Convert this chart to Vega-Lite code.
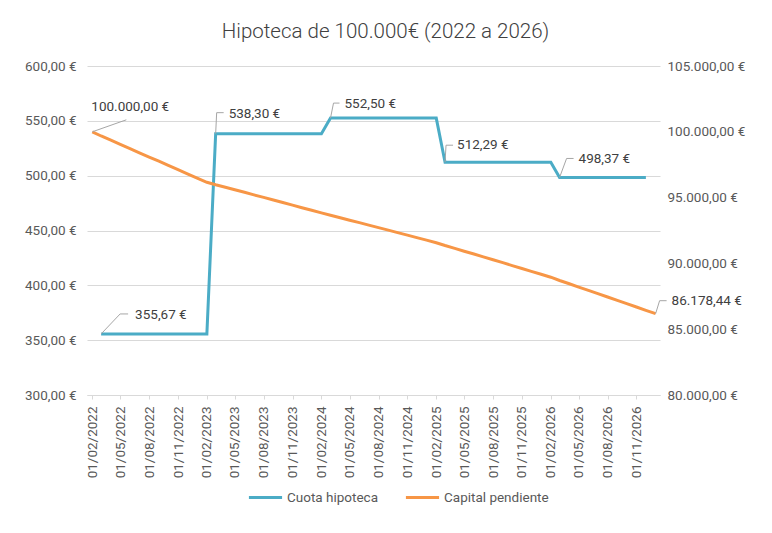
{
  "$schema": "https://vega.github.io/schema/vega-lite/v6.json",
  "width": 573,
  "height": 329,
  "autosize": {"type": "none"},
  "padding": {"left": 87, "top": 66, "right": 112, "bottom": 138},
  "background": "white",
  "title": {
    "text": "Hipoteca de 100.000€ (2022 a 2026)",
    "font": "Roboto",
    "fontSize": 20.5,
    "fontWeight": 300,
    "color": "#404040",
    "anchor": "middle",
    "dx": 12,
    "offset": 17
  },
  "config": {
    "locale": {
      "number": {"decimal": ",", "thousands": ".", "grouping": [3], "currency": ["", " €"]}
    },
    "view": {"stroke": null},
    "font": "Roboto"
  },
  "data": {
    "format": {"parse": {"fecha": "date"}},
    "values": [
      {"fecha": "2022-02-01T00:00", "cuota": null, "capital": 100000.00},
      {"fecha": "2022-03-01T00:00", "cuota": 355.67, "capital": 99681.0},
      {"fecha": "2022-04-01T00:00", "cuota": 355.67, "capital": 99361.9},
      {"fecha": "2022-05-01T00:00", "cuota": 355.67, "capital": 99042.7},
      {"fecha": "2022-06-01T00:00", "cuota": 355.67, "capital": 98723.4},
      {"fecha": "2022-07-01T00:00", "cuota": 355.67, "capital": 98404.0},
      {"fecha": "2022-08-01T00:00", "cuota": 355.67, "capital": 98084.5},
      {"fecha": "2022-09-01T00:00", "cuota": 355.67, "capital": 97764.9},
      {"fecha": "2022-10-01T00:00", "cuota": 355.67, "capital": 97445.2},
      {"fecha": "2022-11-01T00:00", "cuota": 355.67, "capital": 97125.4},
      {"fecha": "2022-12-01T00:00", "cuota": 355.67, "capital": 96805.5},
      {"fecha": "2023-01-01T00:00", "cuota": 355.67, "capital": 96485.5},
      {"fecha": "2023-02-01T00:00", "cuota": 355.67, "capital": 96165.4},
      {"fecha": "2023-03-01T00:00", "cuota": 538.30, "capital": 95975.4},
      {"fecha": "2023-04-01T00:00", "cuota": 538.30, "capital": 95784.7},
      {"fecha": "2023-05-01T00:00", "cuota": 538.30, "capital": 95593.3},
      {"fecha": "2023-06-01T00:00", "cuota": 538.30, "capital": 95401.2},
      {"fecha": "2023-07-01T00:00", "cuota": 538.30, "capital": 95208.4},
      {"fecha": "2023-08-01T00:00", "cuota": 538.30, "capital": 95014.9},
      {"fecha": "2023-09-01T00:00", "cuota": 538.30, "capital": 94820.7},
      {"fecha": "2023-10-01T00:00", "cuota": 538.30, "capital": 94625.8},
      {"fecha": "2023-11-01T00:00", "cuota": 538.30, "capital": 94430.2},
      {"fecha": "2023-12-01T00:00", "cuota": 538.30, "capital": 94233.9},
      {"fecha": "2024-01-01T00:00", "cuota": 538.30, "capital": 94036.9},
      {"fecha": "2024-02-01T00:00", "cuota": 538.30, "capital": 93839.2},
      {"fecha": "2024-03-01T00:00", "cuota": 552.50, "capital": 93654.2},
      {"fecha": "2024-04-01T00:00", "cuota": 552.50, "capital": 93468.5},
      {"fecha": "2024-05-01T00:00", "cuota": 552.50, "capital": 93282.1},
      {"fecha": "2024-06-01T00:00", "cuota": 552.50, "capital": 93095.0},
      {"fecha": "2024-07-01T00:00", "cuota": 552.50, "capital": 92907.2},
      {"fecha": "2024-08-01T00:00", "cuota": 552.50, "capital": 92718.7},
      {"fecha": "2024-09-01T00:00", "cuota": 552.50, "capital": 92529.5},
      {"fecha": "2024-10-01T00:00", "cuota": 552.50, "capital": 92339.6},
      {"fecha": "2024-11-01T00:00", "cuota": 552.50, "capital": 92149.0},
      {"fecha": "2024-12-01T00:00", "cuota": 552.50, "capital": 91957.7},
      {"fecha": "2025-01-01T00:00", "cuota": 552.50, "capital": 91765.7},
      {"fecha": "2025-02-01T00:00", "cuota": 552.50, "capital": 91573.0},
      {"fecha": "2025-03-01T00:00", "cuota": 512.29, "capital": 91358.3},
      {"fecha": "2025-04-01T00:00", "cuota": 512.29, "capital": 91142.9},
      {"fecha": "2025-05-01T00:00", "cuota": 512.29, "capital": 90926.8},
      {"fecha": "2025-06-01T00:00", "cuota": 512.29, "capital": 90710.0},
      {"fecha": "2025-07-01T00:00", "cuota": 512.29, "capital": 90492.5},
      {"fecha": "2025-08-01T00:00", "cuota": 512.29, "capital": 90274.3},
      {"fecha": "2025-09-01T00:00", "cuota": 512.29, "capital": 90055.4},
      {"fecha": "2025-10-01T00:00", "cuota": 512.29, "capital": 89835.8},
      {"fecha": "2025-11-01T00:00", "cuota": 512.29, "capital": 89615.5},
      {"fecha": "2025-12-01T00:00", "cuota": 512.29, "capital": 89394.5},
      {"fecha": "2026-01-01T00:00", "cuota": 512.29, "capital": 89172.8},
      {"fecha": "2026-02-01T00:00", "cuota": 512.29, "capital": 88950.4},
      {"fecha": "2026-03-01T00:00", "cuota": 498.37, "capital": 88701.9},
      {"fecha": "2026-04-01T00:00", "cuota": 498.37, "capital": 88452.7},
      {"fecha": "2026-05-01T00:00", "cuota": 498.37, "capital": 88202.8},
      {"fecha": "2026-06-01T00:00", "cuota": 498.37, "capital": 87952.2},
      {"fecha": "2026-07-01T00:00", "cuota": 498.37, "capital": 87700.9},
      {"fecha": "2026-08-01T00:00", "cuota": 498.37, "capital": 87448.9},
      {"fecha": "2026-09-01T00:00", "cuota": 498.37, "capital": 87196.2},
      {"fecha": "2026-10-01T00:00", "cuota": 498.37, "capital": 86942.8},
      {"fecha": "2026-11-01T00:00", "cuota": 498.37, "capital": 86688.7},
      {"fecha": "2026-12-01T00:00", "cuota": 498.37, "capital": 86433.9},
      {"fecha": "2027-01-01T00:00", "cuota": null, "capital": 86178.44}
    ]
  },
  "encoding": {
    "x": {
      "field": "fecha",
      "type": "temporal",
      "title": null,
      "scale": {"type": "time", "nice": false, "domain": [{"year": 2022, "month": 1, "date": 15}, {"year": 2027, "month": 1, "date": 15}]},
      "axis": {
        "values": [
          {"year": 2022, "month": 2, "date": 1}, {"year": 2022, "month": 5, "date": 1}, {"year": 2022, "month": 8, "date": 1}, {"year": 2022, "month": 11, "date": 1},
          {"year": 2023, "month": 2, "date": 1}, {"year": 2023, "month": 5, "date": 1}, {"year": 2023, "month": 8, "date": 1}, {"year": 2023, "month": 11, "date": 1},
          {"year": 2024, "month": 2, "date": 1}, {"year": 2024, "month": 5, "date": 1}, {"year": 2024, "month": 8, "date": 1}, {"year": 2024, "month": 11, "date": 1},
          {"year": 2025, "month": 2, "date": 1}, {"year": 2025, "month": 5, "date": 1}, {"year": 2025, "month": 8, "date": 1}, {"year": 2025, "month": 11, "date": 1},
          {"year": 2026, "month": 2, "date": 1}, {"year": 2026, "month": 5, "date": 1}, {"year": 2026, "month": 8, "date": 1}, {"year": 2026, "month": 11, "date": 1}
        ],
        "format": "%d/%m/%Y",
        "labelAngle": -90,
        "labelAlign": "right",
        "labelBaseline": "middle",
        "labelFont": "Roboto",
        "labelFontSize": 13.5,
        "labelColor": "#595959",
        "labelPadding": 7,
        "labelOverlap": false,
        "labelFlush": false,
        "labelBound": false,
        "tickColor": "#d9d9d9",
        "tickSize": 4,
        "domainColor": "#d9d9d9",
        "grid": false
      }
    }
  },
  "layer": [
    {
      "layer": [
        {
          "mark": {"type": "line", "strokeWidth": 3},
          "encoding": {
            "y": {
              "field": "cuota",
              "type": "quantitative",
              "title": null,
              "scale": {"domain": [300, 600], "nice": false, "zero": false},
              "axis": {
                "orient": "left",
                "values": [300, 350, 400, 450, 500, 550, 600],
                "format": "$,.2f",
                "grid": true,
                "gridColor": "#d9d9d9",
                "domain": false,
                "ticks": false,
                "labelPadding": 11,
                "labelFont": "Roboto",
                "labelFontSize": 13.5,
                "labelColor": "#595959"
              }
            },
            "color": {
              "datum": "Cuota hipoteca",
              "type": "nominal",
              "scale": {"domain": ["Cuota hipoteca", "Capital pendiente"], "range": ["#4BACC6", "#F79646"]},
              "legend": {
                "title": null,
                "orient": "none",
                "legendX": 160,
                "legendY": 413,
                "direction": "horizontal",
                "symbolType": "stroke",
                "symbolStrokeWidth": 3,
                "symbolSize": 1100,
                "labelFont": "Roboto",
                "labelFontSize": 13.5,
                "labelColor": "#595959",
                "labelOffset": 3,
                "columnPadding": 20
              }
            }
          }
        },
        {
          "transform": [{"filter": {"timeUnit": "yearmonth", "field": "fecha", "equal": {"year": 2022, "month": 3}}}],
          "encoding": {"y": {"field": "cuota", "type": "quantitative", "title": null}},
          "layer": [
            {"mark": {"type": "point", "shape": "M0,0L19,-20L27,-20", "size": 4, "filled": false, "stroke": "#a6a6a6", "strokeWidth": 1, "opacity": 1}},
            {"mark": {"type": "text", "align": "left", "baseline": "middle", "dx": 34, "dy": -19, "font": "Roboto", "fontSize": 13.5, "color": "#404040"},
             "encoding": {"text": {"field": "cuota", "type": "quantitative", "format": "$,.2f"}}}
          ]
        },
        {
          "transform": [{"filter": {"timeUnit": "yearmonth", "field": "fecha", "equal": {"year": 2023, "month": 3}}}],
          "encoding": {"y": {"field": "cuota", "type": "quantitative", "title": null}},
          "layer": [
            {"mark": {"type": "point", "shape": "M0,0L1,-21L8,-21", "size": 4, "filled": false, "stroke": "#a6a6a6", "strokeWidth": 1, "opacity": 1}},
            {"mark": {"type": "text", "align": "left", "baseline": "middle", "dx": 13, "dy": -20, "font": "Roboto", "fontSize": 13.5, "color": "#404040"},
             "encoding": {"text": {"field": "cuota", "type": "quantitative", "format": "$,.2f"}}}
          ]
        },
        {
          "transform": [{"filter": {"timeUnit": "yearmonth", "field": "fecha", "equal": {"year": 2024, "month": 3}}}],
          "encoding": {"y": {"field": "cuota", "type": "quantitative", "title": null}},
          "layer": [
            {"mark": {"type": "point", "shape": "M0,0L3,-15L9,-15", "size": 4, "filled": false, "stroke": "#a6a6a6", "strokeWidth": 1, "opacity": 1}},
            {"mark": {"type": "text", "align": "left", "baseline": "middle", "dx": 14, "dy": -14, "font": "Roboto", "fontSize": 13.5, "color": "#404040"},
             "encoding": {"text": {"field": "cuota", "type": "quantitative", "format": "$,.2f"}}}
          ]
        },
        {
          "transform": [{"filter": {"timeUnit": "yearmonth", "field": "fecha", "equal": {"year": 2025, "month": 3}}}],
          "encoding": {"y": {"field": "cuota", "type": "quantitative", "title": null}},
          "layer": [
            {"mark": {"type": "point", "shape": "M0,0L1,-17L8,-17", "size": 4, "filled": false, "stroke": "#a6a6a6", "strokeWidth": 1, "opacity": 1}},
            {"mark": {"type": "text", "align": "left", "baseline": "middle", "dx": 12, "dy": -17, "font": "Roboto", "fontSize": 13.5, "color": "#404040"},
             "encoding": {"text": {"field": "cuota", "type": "quantitative", "format": "$,.2f"}}}
          ]
        },
        {
          "transform": [{"filter": {"timeUnit": "yearmonth", "field": "fecha", "equal": {"year": 2026, "month": 3}}}],
          "encoding": {"y": {"field": "cuota", "type": "quantitative", "title": null}},
          "layer": [
            {"mark": {"type": "point", "shape": "M0,0L7,-19L14,-19", "size": 4, "filled": false, "stroke": "#a6a6a6", "strokeWidth": 1, "opacity": 1}},
            {"mark": {"type": "text", "align": "left", "baseline": "middle", "dx": 19, "dy": -18, "font": "Roboto", "fontSize": 13.5, "color": "#404040"},
             "encoding": {"text": {"field": "cuota", "type": "quantitative", "format": "$,.2f"}}}
          ]
        }
      ]
    },
    {
      "layer": [
        {
          "mark": {"type": "line", "strokeWidth": 3},
          "encoding": {
            "y": {
              "field": "capital",
              "type": "quantitative",
              "title": null,
              "scale": {"domain": [80000, 105000], "nice": false, "zero": false},
              "axis": {
                "orient": "right",
                "values": [80000, 85000, 90000, 95000, 100000, 105000],
                "format": "$,.2f",
                "grid": false,
                "domain": false,
                "ticks": false,
                "labelPadding": 7,
                "labelFont": "Roboto",
                "labelFontSize": 13.5,
                "labelColor": "#595959"
              }
            },
            "color": {"datum": "Capital pendiente", "type": "nominal"}
          }
        },
        {
          "transform": [{"filter": {"timeUnit": "yearmonth", "field": "fecha", "equal": {"year": 2022, "month": 2}}}],
          "encoding": {"y": {"field": "capital", "type": "quantitative", "title": null}},
          "layer": [
            {"mark": {"type": "point", "shape": "M0,0L34,-12", "size": 4, "filled": false, "stroke": "#a6a6a6", "strokeWidth": 1, "opacity": 1}},
            {"mark": {"type": "text", "align": "left", "baseline": "middle", "dx": -1, "dy": -25, "font": "Roboto", "fontSize": 13.5, "color": "#404040"},
             "encoding": {"text": {"field": "capital", "type": "quantitative", "format": "$,.2f"}}}
          ]
        },
        {
          "transform": [{"filter": {"timeUnit": "yearmonth", "field": "fecha", "equal": {"year": 2027, "month": 1}}}],
          "encoding": {"y": {"field": "capital", "type": "quantitative", "title": null}},
          "layer": [
            {"mark": {"type": "point", "shape": "M0,0L4,-13L11,-13", "size": 4, "filled": false, "stroke": "#a6a6a6", "strokeWidth": 1, "opacity": 1}},
            {"mark": {"type": "text", "align": "left", "baseline": "middle", "dx": 16, "dy": -13, "font": "Roboto", "fontSize": 13.5, "color": "#404040"},
             "encoding": {"text": {"field": "capital", "type": "quantitative", "format": "$,.2f"}}}
          ]
        }
      ]
    }
  ],
  "resolve": {"scale": {"y": "independent"}}
}
